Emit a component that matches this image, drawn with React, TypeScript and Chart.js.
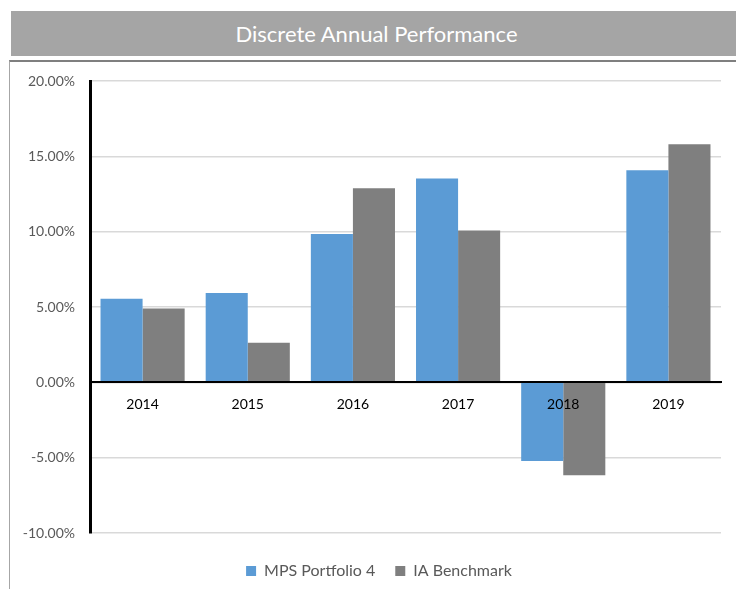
import React, { useEffect, useRef } from "react";
import { Chart, registerables } from "chart.js";

Chart.register(...registerables);

const categories = ["2014", "2015", "2016", "2017", "2018", "2019"];
const mpsPortfolio = [5.55, 5.93, 9.85, 13.53, -5.22, 14.08];
const iaBenchmark = [4.9, 2.62, 12.88, 10.07, -6.17, 15.8];
const seriesNames = ["MPS Portfolio 4", "IA Benchmark"];
const yTicks = [-10, -5, 0, 5, 10, 15, 20];
const titleText = "Discrete Annual Performance";

export default function App() {
  const canvasRef = useRef<HTMLCanvasElement | null>(null);

  useEffect(() => {
    const canvas = canvasRef.current;
    if (!canvas) return;
    const chart = new Chart(canvas, {
      type: "bar",
      data: {
        labels: categories,
        datasets: [
          {
            label: seriesNames[0],
            data: mpsPortfolio,
            backgroundColor: "#5b9bd5",
            borderWidth: 0,
            yAxisID: "y",
          },
          {
            label: seriesNames[1],
            data: iaBenchmark,
            backgroundColor: "#7f7f7f",
            borderWidth: 0,
            yAxisID: "y",
          },
        ],
      },
      options: {
        responsive: false,
        animation: false,
        devicePixelRatio: 1,
        layout: { padding: { left: 0, right: 0, top: 81, bottom: 0 } },
        datasets: {
          bar: { categoryPercentage: 0.8, barPercentage: 1.0 },
        },
        scales: {
          x: {
            position: { y: 0 } as any,
            grid: { display: false, drawTicks: false, z: 0 },
            border: { display: true, color: "#000000", width: 2, z: 1 },
            ticks: {
              z: 1,
              color: "#000000",
              padding: 14,
              font: { family: "Lato", size: 14 },
            },
          },
          y: {
            position: "left",
            min: -10,
            max: 20,
            afterFit: (scale: any) => {
              scale.width = 90;
            },
            afterBuildTicks: (scale: any) => {
              scale.ticks = yTicks.map((v) => ({ value: v }));
            },
            grid: { color: "#d9d9d9", lineWidth: 1.5, drawTicks: false },
            border: { display: true, color: "#000000", width: 3 },
            ticks: {
              color: "#595959",
              padding: 15,
              font: { family: "Lato", size: 14 },
              callback: (v: any) => Number(v).toFixed(2) + "%",
            },
          },
          yRightSpace: {
            type: "linear",
            position: "right",
            display: true,
            afterFit: (scale: any) => {
              scale.width = 37;
            },
            grid: { display: false, drawTicks: false },
            border: { display: false },
            ticks: { display: false },
          },
        },
        plugins: {
          legend: {
            position: "bottom",
            align: "center",
            title: {
              display: true,
              text: "",
              padding: 0,
              font: { size: 10, lineHeight: 1 },
            },
            labels: {
              boxWidth: 10,
              boxHeight: 10,
              padding: 20,
              color: "#595959",
              font: { family: "Lato", size: 16 },
            },
          },
          tooltip: { enabled: false },
          title: { display: false },
        },
      },
    });
    return () => chart.destroy();
  }, []);

  return (
    <div
      style={{
        position: "fixed",
        left: 0,
        top: 0,
        width: 736,
        height: 589,
        overflow: "hidden",
        background: "#ffffff",
      }}
    >
      <div
        style={{
          position: "absolute",
          left: 11,
          top: 11,
          width: 725,
          height: 45,
          background: "#a5a5a5",
          color: "#ffffff",
          fontFamily: "Lato, sans-serif",
          fontSize: 22,
          lineHeight: "45px",
          textAlign: "center",
          paddingLeft: 6,
          boxSizing: "border-box",
        }}
      >
        {titleText}
      </div>
      <div
        style={{
          position: "absolute",
          left: 9,
          top: 60,
          width: 760,
          height: 600,
          borderTop: "2px solid #7f7f7f",
          borderLeft: "1px solid #a6a6a6",
          boxSizing: "border-box",
        }}
      />
      <canvas
        ref={canvasRef}
        width={758}
        height={589}
        style={{ position: "absolute", left: 0, top: 0, width: 758, height: 589 }}
      />
    </div>
  );
}
